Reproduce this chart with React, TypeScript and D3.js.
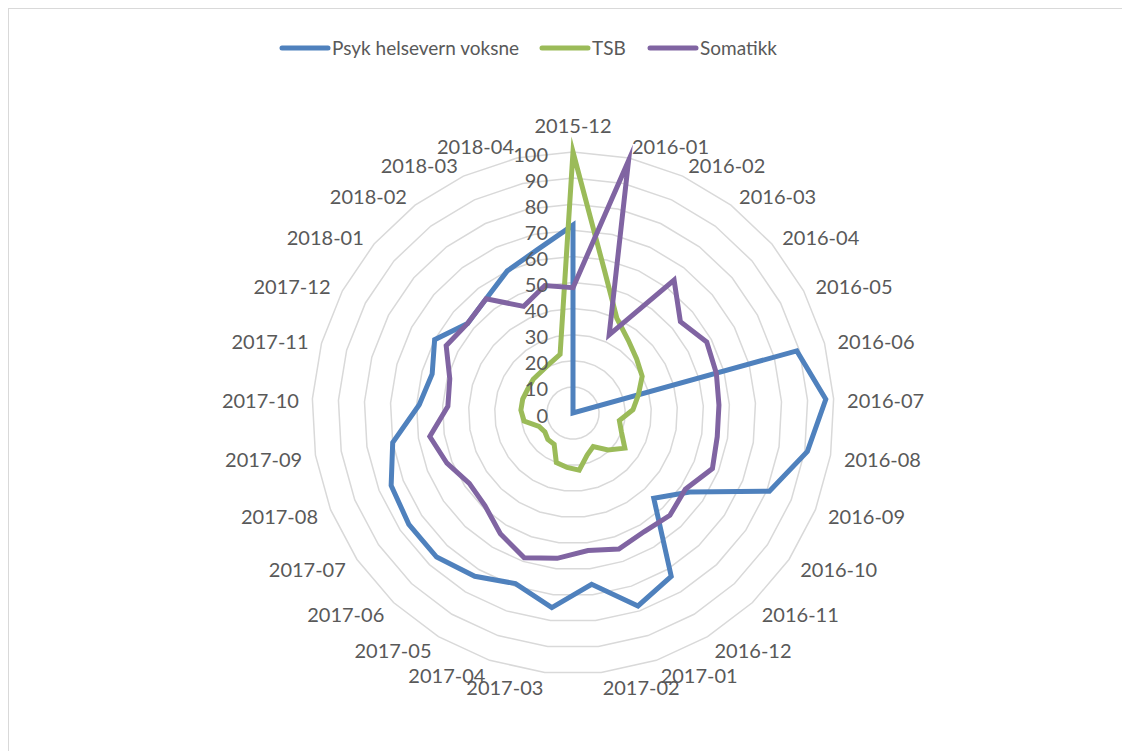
import React from 'react';
import * as d3 from 'd3';

const categories = [
  '2015-12', '2016-01', '2016-02', '2016-03', '2016-04', '2016-05', '2016-06',
  '2016-07', '2016-08', '2016-09', '2016-10', '2016-11', '2016-12', '2017-01',
  '2017-02', '2017-03', '2017-04', '2017-05', '2017-06', '2017-07', '2017-08',
  '2017-09', '2017-10', '2017-11', '2017-12', '2018-01', '2018-02', '2018-03', '2018-04',
];

const psykValues = [72, 0, 0, 0, 0, 0, 89, 97, 91, 81, 54, 45, 73, 78, 66, 75, 69, 73, 76, 76, 75, 70, 59, 56, 60, 53, 55, 60, 64];
const tsbValues = [100, 56, 40, 35, 32, 30, 26, 23, 18, 20, 24, 19.5, 15, 17, 22, 21, 20, 14, 14, 13, 14, 19, 20, 20, 19.6, 20, 20, 21, 23];
const somatikkValues = [48, 99, 33, 64, 54, 58, 57, 56, 56, 57.5, 52, 54, 53, 55, 53, 56, 58.5, 54, 49, 48, 52, 55.6, 48, 49, 55, 53, 55, 45, 50];

const tickValues = [0, 10, 20, 30, 40, 50, 60, 70, 80, 90, 100];

const seriesNames = ['Psyk helsevern voksne', 'TSB', 'Somatikk'];
const seriesColors = ['#4F81BD', '#9BBB59', '#8064A2'];

const W = 1122;
const H = 751;
const CX = 573;
const CY = 413;
const RMAX = 261;
const FONT = 'Lato, "Open Sans", sans-serif';
const TEXT = '#595959';

export default function App() {
  const n = categories.length;
  const r = d3.scaleLinear().domain([0, 100]).range([0, RMAX]);
  const angle = d3.scaleLinear().domain([0, n]).range([0, 2 * Math.PI]);

  const line = d3
    .lineRadial<number>()
    .angle((_d, i) => angle(i))
    .radius((d) => r(d))
    .curve(d3.curveLinearClosed);

  const series = [psykValues, tsbValues, somatikkValues];

  const rings = tickValues.filter((t) => t > 0).map((t) => categories.map(() => t));

  const labelR = 274.5;
  const legendX = [282, 542, 650];

  return (
    <svg
      width={W}
      height={H}
      style={{ position: 'absolute', left: 0, top: 0, display: 'block', background: '#fff' }}
      fontFamily={FONT}
    >
      <rect x={8.5} y={8.5} width={1300} height={900} fill="#fff" stroke="#d9d9d9" strokeWidth={1} />

      {/* legend */}
      {seriesNames.map((name, k) => (
        <g key={name}>
          <line
            x1={legendX[k]}
            x2={legendX[k] + 46}
            y1={48}
            y2={48}
            stroke={seriesColors[k]}
            strokeWidth={5}
            strokeLinecap="round"
          />
          <text x={legendX[k] + 50} y={48} dy="0.35em" fontSize={19} fill={TEXT}>
            {name}
          </text>
        </g>
      ))}

      <g transform={`translate(${CX},${CY})`}>
        {rings.map((ring, k) => (
          <path key={k} d={line(ring) || ''} fill="none" stroke="#d9d9d9" strokeWidth={1.5} />
        ))}

        {series.map((vals, k) => (
          <path
            key={k}
            d={line(vals) || ''}
            fill="none"
            stroke={seriesColors[k]}
            strokeWidth={5}
            strokeLinejoin="miter"
            strokeMiterlimit={10}
          />
        ))}

        {tickValues.map((t) => (
          <text key={t} x={-25} y={-r(t) + 2.5} dy="0.35em" textAnchor="end" fontSize={20} fill={TEXT}>
            {t}
          </text>
        ))}

        {categories.map((c, i) => {
          const a = angle(i);
          const s = Math.sin(a);
          const co = Math.cos(a);
          const px = labelR * s;
          const py = -labelR * co;
          let anchor = 'middle';
          let yy = py + 2.5;
          if (Math.abs(s) < 0.01) {
            anchor = 'middle';
            yy = co > 0 ? py - 12.5 : py + 12.5;
          } else if (s > 0) anchor = 'start';
          else anchor = 'end';
          return (
            <text key={c} x={px} y={yy} dy="0.35em" textAnchor={anchor} fontSize={20} fill={TEXT}>
              {c}
            </text>
          );
        })}
      </g>
    </svg>
  );
}
